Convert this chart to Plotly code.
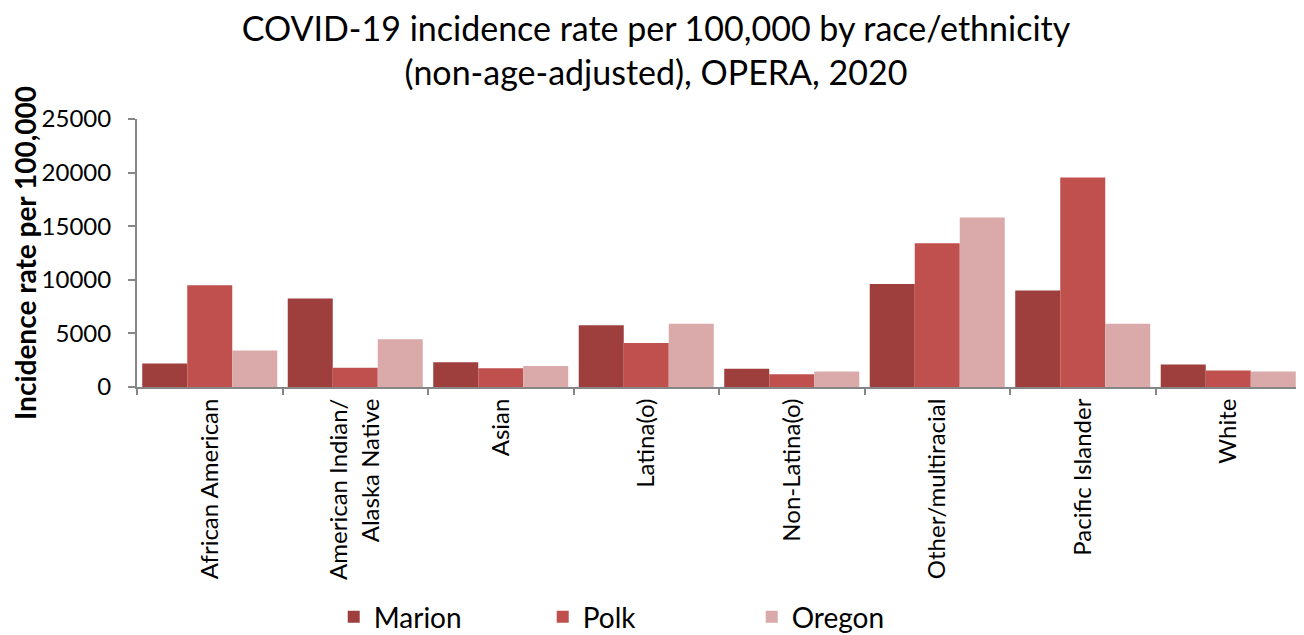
import plotly.graph_objects as go

# categories and values (incidence rate per 100,000)
categories = [
    "African American",
    "American Indian/<br>Alaska Native",
    "Asian",
    "Latina(o)",
    "Non-Latina(o)",
    "Other/multiracial",
    "Pacific Islander",
    "White",
]
marion = [2200, 8250, 2300, 5750, 1700, 9600, 9000, 2100]
polk = [9500, 1800, 1750, 4100, 1200, 13400, 19550, 1550]
oregon = [3400, 4450, 1950, 5900, 1450, 15800, 5900, 1450]

series_names = ["Marion", "Polk", "Oregon"]
series_colors = ["#9E3F3E", "#C0504D", "#DAA9A9"]

FONT = "Lato"

fig = go.Figure()
for name, vals, color in zip(series_names, [marion, polk, oregon], series_colors):
    fig.add_trace(go.Bar(
        x=categories,
        y=vals,
        name=name,
        marker=dict(color=color, line=dict(width=0)),
    ))

# the page body has an 8px margin, so the figure is sized to fit inside it
fig.update_layout(
    width=1296,
    height=627,
    barmode="group",
    bargap=0.072,
    bargroupgap=0,
    paper_bgcolor="white",
    plot_bgcolor="white",
    font=dict(family=FONT, color="#000000"),
    title=dict(
        text="COVID-19 incidence rate per 100,000 by race/ethnicity<br>(non-age-adjusted), OPERA, 2020",
        x=0.5,
        xanchor="center",
        xref="container",
        y=0.947,
        yanchor="middle",
        yref="container",
        font=dict(family=FONT, size=34, color="#000000"),
    ),
    margin=dict(l=129, r=3, t=111, b=248, autoexpand=False),
    legend=dict(
        orientation="h",
        x=0.169,
        xanchor="left",
        y=-0.858,
        yanchor="middle",
        font=dict(family=FONT, size=28),
        entrywidth=164,
        entrywidthmode="pixels",
        itemsizing="constant",
    ),
    showlegend=True,
)

fig.update_xaxes(
    automargin=False,
    showline=True,
    linecolor="#868686",
    linewidth=2,
    ticks="outside",
    tickson="boundaries",
    ticklen=6,
    tickcolor="#868686",
    tickwidth=2,
    tickangle=-90,
    tickfont=dict(family=FONT, size=24),
    showgrid=False,
)

fig.update_yaxes(
    automargin=False,
    range=[0, 25000],
    tickvals=[0, 5000, 10000, 15000, 20000, 25000],
    ticktext=["0", "5000", "10000", "15000", "20000", "25000"],
    showline=True,
    linecolor="#868686",
    linewidth=2,
    ticks="outside",
    ticklen=7,
    tickcolor="#868686",
    tickwidth=2,
    ticklabelstandoff=12,
    tickfont=dict(family=FONT, size=24),
    showgrid=False,
    zeroline=False,
    title=dict(
        text="<b>Incidence rate per 100,000</b>",
        font=dict(family=FONT, size=28),
        standoff=14,
    ),
)

fig.write_html("out.html")
